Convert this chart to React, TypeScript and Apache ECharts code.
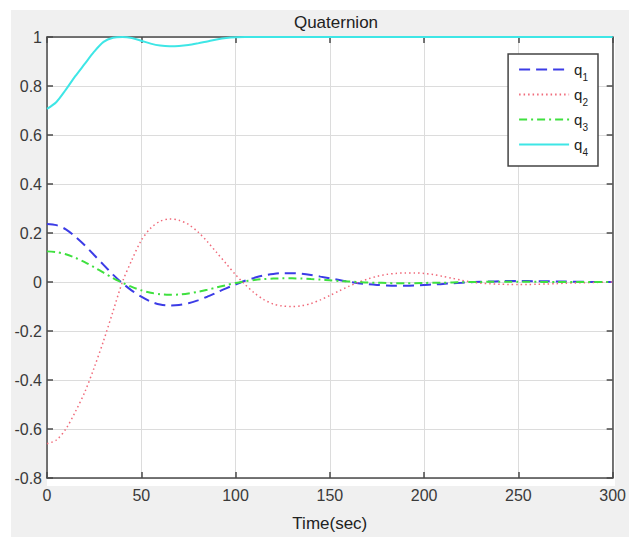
import React, { useEffect, useRef } from "react";
import * as echarts from "echarts";

const times = [0,5,10,15,20,25,30,35,40,45,50,55,60,65,70,75,80,85,90,95,100,105,110,115,120,125,130,135,140,145,150,155,160,165,170,175,180,185,190,195,200,205,210,215,220,225,230,235,240,245,250,255,260,265,270,275,280,285,290,295,300];

const q1 = [0.237,0.232,0.215,0.185,0.15,0.11,0.07,0.03,-0.005,-0.035,-0.06,-0.08,-0.092,-0.096,-0.094,-0.087,-0.075,-0.06,-0.043,-0.026,-0.01,0.005,0.017,0.027,0.033,0.036,0.036,0.034,0.029,0.022,0.015,0.008,0.001,-0.005,-0.009,-0.012,-0.014,-0.015,-0.015,-0.014,-0.012,-0.01,-0.008,-0.005,-0.003,-0.001,0.001,0.002,0.003,0.004,0.004,0.004,0.003,0.003,0.002,0.002,0.001,0.001,0,0,0];

const q2 = [-0.66,-0.645,-0.6,-0.53,-0.45,-0.35,-0.24,-0.12,0.0,0.09,0.17,0.22,0.248,0.257,0.252,0.235,0.205,0.165,0.12,0.075,0.03,-0.01,-0.045,-0.072,-0.09,-0.098,-0.1,-0.097,-0.088,-0.073,-0.055,-0.036,-0.018,-0.002,0.012,0.023,0.031,0.035,0.037,0.037,0.035,0.03,0.023,0.015,0.007,0.0,-0.005,-0.007,-0.009,-0.01,-0.01,-0.01,-0.009,-0.008,-0.007,-0.005,-0.004,-0.003,-0.002,-0.001,0];

const q3 = [0.125,0.122,0.113,0.099,0.081,0.06,0.038,0.016,-0.003,-0.02,-0.034,-0.044,-0.05,-0.052,-0.051,-0.047,-0.04,-0.032,-0.022,-0.013,-0.004,0.003,0.008,0.012,0.014,0.015,0.015,0.014,0.012,0.01,0.007,0.004,0.002,0,-0.002,-0.003,-0.004,-0.005,-0.005,-0.005,-0.004,-0.003,-0.003,-0.002,-0.001,0,0,0.001,0.001,0.001,0.001,0.001,0.001,0,0,0,0,0,0,0,0];

const q4 = [0.707,0.735,0.785,0.84,0.89,0.94,0.98,0.997,1.0,0.996,0.985,0.973,0.965,0.962,0.963,0.967,0.974,0.982,0.99,0.996,0.999,1,1,1,1,1,1,1,1,1,1,1,1,1,1,1,1,1,1,1,1,1,1,1,1,1,1,1,1,1,1,1,1,1,1,1,1,1,1,1,1];

const seriesNames = ["q1", "q2", "q3", "q4"];
const subscripts = ["1", "2", "3", "4"];
const yMin = -0.8;
const yMax = 1;

const pairs = (vals: number[]) => times.map((t, i) => [t, vals[i]]);

export default function App() {
  const ref = useRef<HTMLDivElement>(null);
  useEffect(() => {
    if (!ref.current) return;
    const chart = echarts.init(ref.current, null, { renderer: "svg" });
    const font = "Liberation Sans, Arial, sans-serif";
    const labelColor = "#3a3a3a";
    const axisColor = "#4a4a4a";
    const gridColor = "#dcdcdc";
    const styles: any[] = [
      { color: "#3c3ce6", type: [11, 6], width: 2 },
      { color: "#f06a7a", type: [1.5, 3], width: 1.5 },
      { color: "#3fe03f", type: [8, 4, 2, 4], width: 2 },
      { color: "#3ee6e6", type: "solid", width: 2 },
    ];
    const vals = [q1, q2, q3, q4];
    chart.setOption({
      animation: false,
      backgroundColor: "#ffffff",
      graphic: [
        { type: "rect", shape: { x: 11, y: 10, width: 618, height: 527 }, style: { fill: "#f0f0f0" }, z: -10, silent: true },
        { type: "rect", shape: { x: 47, y: 37, width: 568, height: 449 }, style: { fill: "#ffffff" }, z: -9, silent: true },
      ],
      title: {
        text: "Quaternion",
        left: 331,
        top: 9,
        textAlign: "center",
        textStyle: { fontFamily: font, fontSize: 17, fontWeight: "normal", color: "#222" },
      },
      grid: { left: 47, top: 37, right: 14, bottom: 51, show: false },
      legend: {
        orient: "vertical",
        right: 31,
        top: 54,
        padding: [8, 10, 9, 10],
        itemWidth: 50,
        itemHeight: 14,
        itemGap: 5,
        borderColor: "#444",
        borderWidth: 1.5,
        backgroundColor: "#ffffff",
        itemStyle: { opacity: 0 },
        data: seriesNames,
        formatter: (name: string) => {
          const i = seriesNames.indexOf(name);
          return `{q|q}{s|${subscripts[i]}}`;
        },
        textStyle: {
          fontFamily: font,
          fontSize: 15,
          color: "#222",
          rich: {
            q: { fontFamily: font, fontSize: 15, color: "#222", verticalAlign: "bottom" },
            s: { fontFamily: font, fontSize: 10, color: "#222", padding: [0, 0, -5, 0], verticalAlign: "bottom" },
          },
        },
      },
      xAxis: [
        {
          type: "value",
          min: 0,
          max: 300,
          interval: 50,
          name: "Time(sec)",
          nameLocation: "middle",
          nameGap: 37,
          nameTextStyle: { fontFamily: font, fontSize: 17, color: "#222" },
          axisLine: { show: true, onZero: false, lineStyle: { color: axisColor, width: 1.5 } },
          axisTick: { show: true, inside: true, length: 6, lineStyle: { color: axisColor, width: 1.5 } },
          axisLabel: { fontFamily: font, fontSize: 16, color: labelColor, margin: 9 },
          splitLine: { show: true, lineStyle: { color: gridColor, width: 1 } },
        },
        {
          type: "value",
          position: "top",
          min: 0,
          max: 300,
          interval: 50,
          axisLine: { show: true, onZero: false, lineStyle: { color: axisColor, width: 1.5 } },
          axisTick: { show: true, inside: true, length: 6, lineStyle: { color: axisColor, width: 1.5 } },
          axisLabel: { show: false },
          splitLine: { show: false },
        },
      ],
      yAxis: [
        {
          type: "value",
          min: yMin,
          max: yMax,
          interval: 0.2,
          axisLine: { show: true, onZero: false, lineStyle: { color: axisColor, width: 1.5 } },
          axisTick: { show: true, inside: true, length: 6, lineStyle: { color: axisColor, width: 1.5 } },
          axisLabel: {
            fontFamily: font,
            fontSize: 16,
            color: labelColor,
            margin: 5,
            formatter: (v: number) => String(Math.round(v * 10) / 10),
          },
          splitLine: { show: true, lineStyle: { color: gridColor, width: 1 } },
        },
        {
          type: "value",
          position: "right",
          min: yMin,
          max: yMax,
          interval: 0.2,
          axisLine: { show: true, onZero: false, lineStyle: { color: axisColor, width: 1.5 } },
          axisTick: { show: true, inside: true, length: 6, lineStyle: { color: axisColor, width: 1.5 } },
          axisLabel: { show: false },
          splitLine: { show: false },
        },
      ],
      series: seriesNames.map((n, i) => ({
        name: n,
        type: "line",
        xAxisIndex: 0,
        yAxisIndex: 0,
        data: pairs(vals[i]),
        smooth: 0.3,
        showSymbol: false,
        symbol: "none",
        lineStyle: styles[i],
        itemStyle: { color: styles[i].color },
        z: 3,
      })),
    });
    return () => chart.dispose();
  }, []);
  return (
    <div style={{ position: "absolute", left: 0, top: 0, width: 629, height: 537, background: "#fff" }}>
      <div ref={ref} style={{ width: 629, height: 537 }} />
    </div>
  );
}
